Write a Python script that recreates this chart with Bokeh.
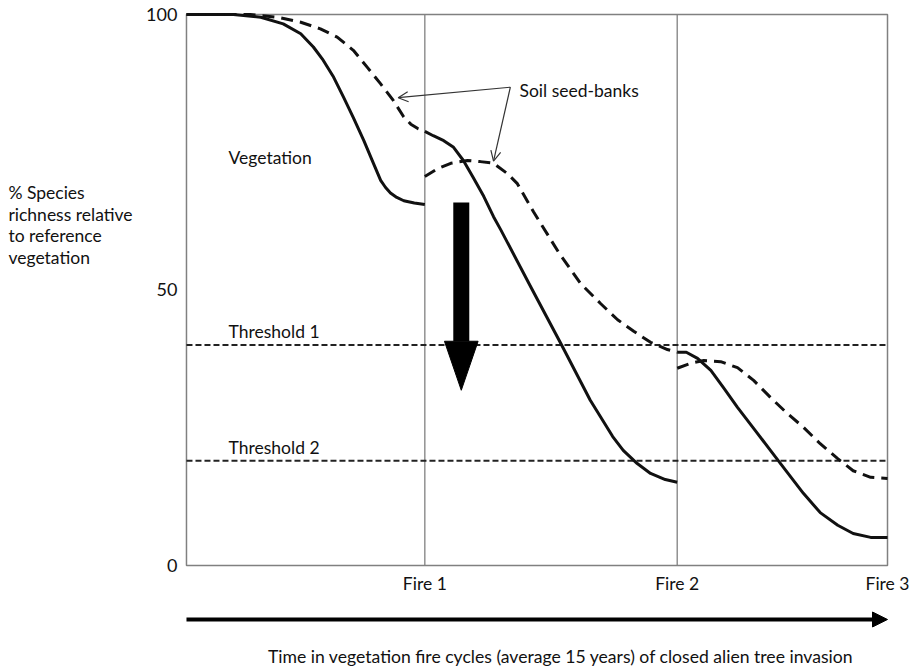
from bokeh.plotting import figure
from bokeh.models import Range1d, Label, Arrow, OpenHead, NormalHead
from bokeh.core.properties import value
from bokeh.embed import file_html
from bokeh.resources import INLINE

FONT = "Lato"
INK = "#111111"
GREY = "#808080"

# ---- data ----
fire_x = [34, 70, 100]
fire_labels = ["Fire 1", "Fire 2", "Fire 3"]
y_ticks = [0, 50, 100]
y_tick_labels = ["0", "50", "100"]
threshold_values = [40, 19]
threshold_labels = ["Threshold 1", "Threshold 2"]

veg1_x = [0, 6.7, 10.6, 13.8, 16.3, 18.1, 19.5, 21.0, 22.4, 23.8, 25.3, 26.7, 27.7, 28.4, 29.1, 30.0, 31.0, 32.5, 34.0]
veg1_y = [100, 100, 99.5, 98.3, 96.5, 94.1, 91.7, 88.6, 85.0, 81.3, 77.1, 72.9, 69.9, 68.6, 67.6, 66.8, 66.2, 65.8, 65.5]

seed1_x = [0, 9.1, 13.0, 16.3, 19.1, 21.5, 23.8, 25.8, 27.7, 29.5, 31.0, 32.0, 33.0, 34.0]
seed1_y = [100, 100, 99.5, 98.6, 97.4, 95.9, 93.5, 90.4, 87.4, 84.4, 81.4, 80.1, 79.3, 78.8]

veg2_x = [34.0, 35.2, 36.7, 38.1, 39.5, 40.9, 42.4, 43.8, 44.8, 49.1, 53.4, 57.6, 59.1, 60.8, 62.3, 64.3, 66.2, 68.3, 70.0]
veg2_y = [78.8, 78.0, 77.1, 75.9, 73.5, 70.4, 67.0, 63.3, 61.0, 50.6, 40.3, 30.0, 26.9, 23.4, 20.9, 18.5, 16.7, 15.6, 15.1]

seed2_x = [34.0, 35.8, 37.7, 40.1, 41.9, 43.8, 45.8, 47.2, 49.5, 53.1, 56.2, 59.1, 61.5, 63.8, 66.2, 68.6, 70.0]
seed2_y = [70.6, 72.0, 73.0, 73.5, 73.3, 73.0, 71.1, 69.3, 64.2, 56.8, 51.2, 47.5, 44.6, 42.5, 40.5, 39.2, 38.7]

veg3_x = [70.0, 71.3, 72.9, 74.8, 76.6, 78.6, 80.9, 83.3, 85.7, 88.0, 90.4, 92.9, 95.1, 97.6, 100]
veg3_y = [38.7, 38.7, 37.6, 35.4, 32.3, 28.7, 24.9, 20.9, 16.9, 13.1, 9.6, 7.3, 5.8, 5.1, 5.1]

seed3_x = [70.0, 71.9, 73.8, 76.2, 78.6, 80.9, 83.3, 85.7, 88.0, 90.4, 92.9, 95.1, 97.6, 100]
seed3_y = [35.8, 36.7, 37.2, 37.0, 35.9, 33.6, 30.5, 27.6, 25.1, 22.1, 19.4, 17.2, 16.0, 15.8]

# big downward arrow (x, top, head base, tip)
big_arrow_x = 39.2
big_arrow_top = 65.9
big_arrow_base = 40.7
big_arrow_tip = 31.8
big_arrow_half_head = 2.4

# annotation "Soil seed-banks": text anchor and arrow targets
seed_note = (46.2, 86.8)
seed_targets = [(30.2, 84.9), (43.8, 73.4)]

y_title_lines = ["% Species", "richness relative", "to reference", "vegetation"]
x_title = "Time in vegetation fire cycles (average 15 years) of closed alien tree invasion"

# ---- figure: whole canvas is the frame, box 0..100 drawn explicitly ----
X_LO, X_HI = -26.53, 103.28
Y_LO, Y_HI = -18.33, 102.54
p = figure(width=910, height=666, x_range=Range1d(X_LO, X_HI), y_range=Range1d(Y_LO, Y_HI),
           output_backend="svg", toolbar_location=None, min_border=0)
p.axis.visible = False
p.grid.visible = False
p.outline_line_color = None
p.background_fill_color = "white"
p.border_fill_color = "white"

# plot box
p.quad(left=[0], right=[100], bottom=[0], top=[100], fill_color=None,
       line_color=GREY, line_width=1.5)

# fire vertical lines
p.segment(x0=fire_x[:2], y0=[0, 0], x1=fire_x[:2], y1=[100, 100], line_color=GREY, line_width=1.3)

# thresholds
p.segment(x0=[0] * len(threshold_values), y0=threshold_values,
          x1=[100] * len(threshold_values), y1=threshold_values,
          line_color="#222222", line_width=2, line_dash="6 3")
p.text(x=[6.0] * len(threshold_values), y=[v + 2.5 for v in threshold_values], text=threshold_labels,
       text_font=value(FONT), text_font_size="17.5px", text_color=INK, text_baseline="middle")

# tick labels
p.text(x=[-1.3] * len(y_ticks), y=y_ticks, text=y_tick_labels, text_font=value(FONT),
       text_font_size="18px", text_color=INK, text_align="right", text_baseline="middle")
p.text(x=fire_x, y=[-3.3] * len(fire_x), text=fire_labels, text_font=value(FONT),
       text_font_size="17.5px", text_color=INK, text_align="center", text_baseline="middle")

# curves
for xs, ys in ((veg1_x, veg1_y), (veg2_x, veg2_y), (veg3_x, veg3_y)):
    p.line(xs, ys, line_color=INK, line_width=3, line_join="round")
for xs, ys in ((seed1_x, seed1_y), (seed2_x, seed2_y), (seed3_x, seed3_y)):
    p.line(xs, ys, line_color=INK, line_width=3, line_dash="12 7", line_join="round")

# big arrow
p.segment(x0=[big_arrow_x], y0=[big_arrow_top], x1=[big_arrow_x], y1=[big_arrow_base],
          line_color="black", line_width=16, line_cap="butt")
p.patch([big_arrow_x - big_arrow_half_head, big_arrow_x + big_arrow_half_head, big_arrow_x],
        [big_arrow_base, big_arrow_base, big_arrow_tip], fill_color="black", line_color="black")

# labels
p.add_layout(Label(x=6.0, y=74.0, text="Vegetation", text_font=FONT, text_font_size="17.5px",
                   text_color=INK, text_baseline="middle"))
p.add_layout(Label(x=seed_note[0] + 1.3, y=seed_note[1] - 0.6, text="Soil seed-banks", text_font=FONT,
                   text_font_size="17.5px", text_color=INK, text_baseline="middle"))
for tx, ty in seed_targets:
    p.add_layout(Arrow(x_start=seed_note[0], y_start=seed_note[1], x_end=tx, y_end=ty,
                       line_color="#333333", line_width=1.2,
                       end=OpenHead(size=10, line_color="#333333", line_width=1.2)))

p.text(x=[-25.4] * len(y_title_lines), y=[67.7 - i * 3.95 for i in range(len(y_title_lines))],
       text=y_title_lines, text_font=value(FONT), text_font_size="17.5px", text_color=INK,
       text_baseline="middle", text_align="left")

# time arrow & title below the box
p.add_layout(Arrow(x_start=0, y_start=-9.8, x_end=100, y_end=-9.8, line_color="black", line_width=4,
                   end=NormalHead(size=15, fill_color="black", line_color="black")))
p.add_layout(Label(x=53.4, y=-16.5, text=x_title, text_font=FONT, text_font_size="17.6px",
                   text_color=INK, text_baseline="middle", text_align="center"))

open("out.html", "w").write(file_html(p, INLINE))
